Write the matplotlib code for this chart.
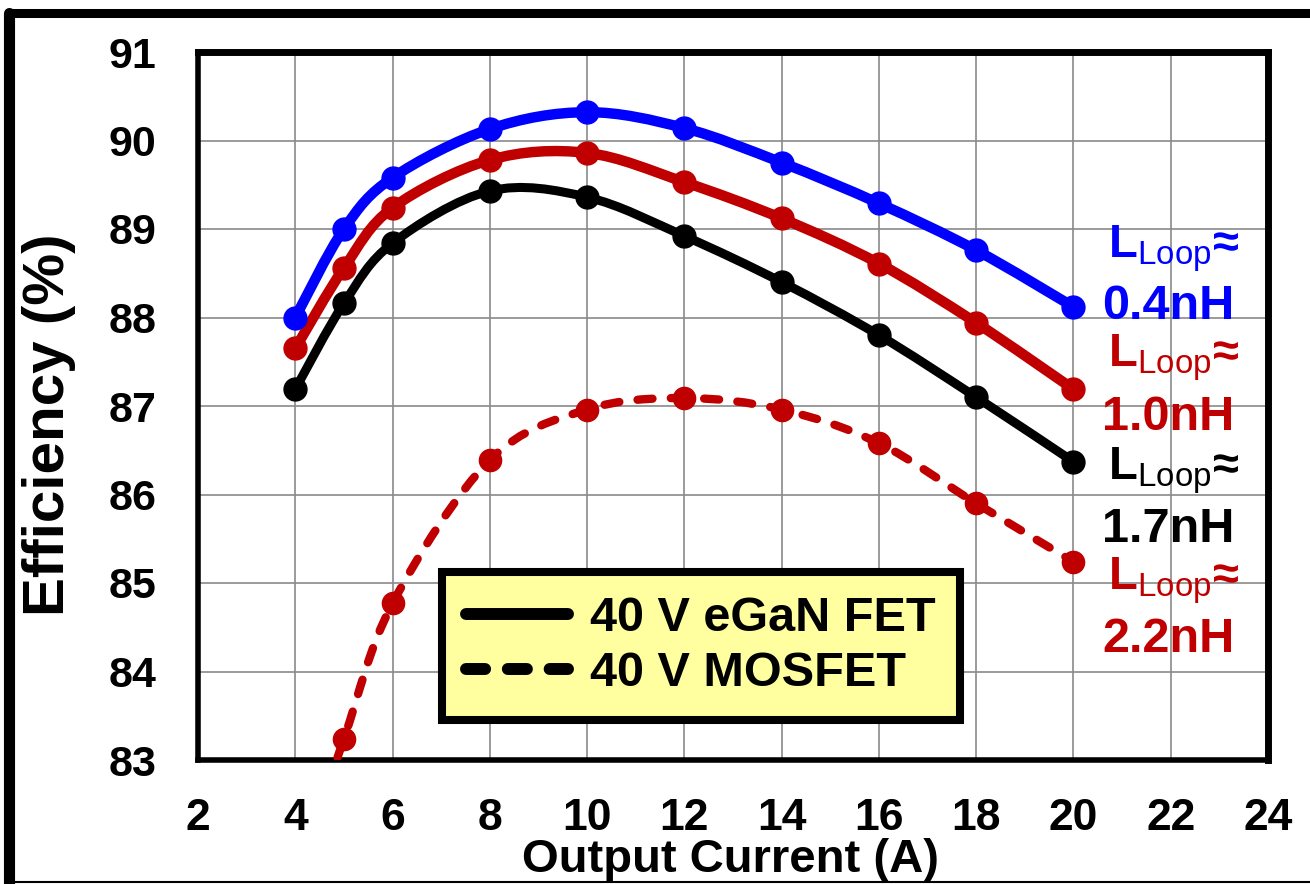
# Efficiency vs output current, eGaN FET vs MOSFET
import numpy as np
import matplotlib
matplotlib.use('Agg')
import matplotlib.pyplot as plt
from matplotlib.path import Path
from matplotlib.patches import PathPatch
from matplotlib.lines import Line2D

# Datos
corriente = [4, 5, 6, 8, 10, 12, 14, 16, 18, 20]
ef_04nH = [88.00, 89.00, 89.58, 90.13, 90.32, 90.14, 89.75, 89.29, 88.76, 88.12]
ef_10nH = [87.65, 88.56, 89.24, 89.78, 89.86, 89.53, 89.12, 88.61, 87.94, 87.19]
ef_17nH = [87.19, 88.16, 88.84, 89.43, 89.36, 88.92, 88.40, 87.80, 87.10, 86.37]
ef_22nH = [81.6, 83.24, 84.77, 86.39, 86.96, 87.09, 86.96, 86.58, 85.90, 85.24]

etiquetas_lazo = ['0.4nH', '1.0nH', '1.7nH', '2.2nH']
leyenda = ['40 V eGaN FET', '40 V MOSFET']
xticks = list(range(2, 25, 2))
yticks = list(range(83, 92))

plt.rcParams['font.family'] = ['Liberation Sans', 'DejaVu Sans']
plt.rcParams['font.weight'] = 'bold'
plt.rcParams['mathtext.fontset'] = 'custom'
plt.rcParams['mathtext.rm'] = 'Liberation Sans:normal'
plt.rcParams['mathtext.bf'] = 'Liberation Sans:bold'
plt.rcParams['mathtext.fallback'] = 'stixsans'

azul = '#0000FF'
rojo = '#C00000'
negro = '#000000'


def curva_suave(xs, ys):
    # linea suavizada tipo Excel (Bezier cubico por segmento)
    pts = np.column_stack([xs, ys]).astype(float)
    n = len(pts)
    verts = [pts[0]]
    codes = [Path.MOVETO]
    for i in range(n - 1):
        p0 = pts[i - 1] if i > 0 else pts[i]
        p1 = pts[i]
        p2 = pts[i + 1]
        p3 = pts[i + 2] if i + 2 < n else pts[i + 1]
        verts += [p1 + (p2 - p0) / 6, p2 - (p3 - p1) / 6, p2]
        codes += [Path.CURVE4] * 3
    return Path(verts, codes)


fig = plt.figure(figsize=(13.1, 8.84), dpi=100)
ax = fig.add_axes([198 / 1310, 1 - 760 / 884, 1070 / 1310, 708 / 884])

# Serie MOSFET (discontinua)
ax.add_patch(PathPatch(curva_suave(corriente, ef_22nH), fill=False, edgecolor=rojo,
                       lw=6.0, linestyle=(0, (1.8, 2.2)), capstyle='round',
                       joinstyle='round', zorder=3))
ax.plot(corriente, ef_22nH, 'o', color=rojo, ms=16, zorder=4)

# Series eGaN
for ys, col, lw in [(ef_17nH, negro, 6.5), (ef_10nH, rojo, 7.5), (ef_04nH, azul, 7.5)]:
    ax.add_patch(PathPatch(curva_suave(corriente, ys), fill=False, edgecolor=col,
                           lw=lw, capstyle='round', joinstyle='round', zorder=3))
    ax.plot(corriente, ys, 'o', color=col, ms=16.5, zorder=4)

ax.set_xlim(2, 24)
ax.set_ylim(83, 91)
ax.set_xticks(xticks)
ax.set_yticks(yticks)
ax.tick_params(axis='y', length=0, labelsize=31, pad=30)
ax.tick_params(axis='x', length=0, labelsize=32, pad=27)
for lab in ax.get_xticklabels() + ax.get_yticklabels():
    lab.set_fontweight('bold')
ax.grid(True, color='#8a8a8a', lw=1.2)
ax.set_axisbelow(True)
for s in ['top', 'right']:
    ax.spines[s].set_linewidth(5)
for s in ['left', 'bottom']:
    ax.spines[s].set_linewidth(4)

# Etiquetas de inductancia de lazo
colores_lab = [azul, rojo, negro, rojo]
base_L = [88.68, 87.45, 86.17, 84.93]
base_v = [87.98, 86.73, 85.46, 84.22]
for txt, col, yL, yv in zip(etiquetas_lazo, colores_lab, base_L, base_v):
    ax.text(22.05, yL, r'L$_{\mathrm{Loop}}$≈', color=col,
            fontsize=34, ha='center', va='baseline', zorder=5)
    ax.text(21.95, yv, txt, color=col, fontsize=35, fontweight='bold',
            ha='center', va='baseline', zorder=5)

# Leyenda
h1 = Line2D([], [], color='black', lw=8.6, solid_capstyle='round')
h2 = Line2D([], [], color='black', lw=8.6, linestyle=(0, (1.6, 1.9)),
            dash_capstyle='round')
leg = ax.legend([h1, h2], leyenda, loc='lower left', bbox_to_anchor=(0.228, 0.0565),
                borderaxespad=0, handlelength=2.1, handletextpad=0.45,
                labelspacing=0.2, borderpad=0.5, fancybox=False, framealpha=1,
                prop={'weight': 'bold', 'size': 35})
leg.get_frame().set_facecolor('#FFFFA0')
leg.get_frame().set_edgecolor('black')
leg.get_frame().set_linewidth(5.8)
leg.set_zorder(6)

# Titulos de ejes
fig.text(49 / 1310, 1 - 425 / 884, 'Efficiency (%)', rotation=90, fontsize=42,
         fontweight='bold', ha='center', va='center')
fig.text(731 / 1310, 1 - 872 / 884, 'Output Current (A)', fontsize=34,
         fontweight='bold', ha='center', va='baseline')

# Marco de la figura
fig.add_artist(Line2D([9 / 1310, 1.0], [1 - 12.5 / 884] * 2, color='black', lw=6.5,
                      solid_capstyle='round', transform=fig.transFigure))
fig.add_artist(Line2D([9 / 1310] * 2, [0.0, 1 - 12.5 / 884], color='black', lw=8,
                      solid_capstyle='round', transform=fig.transFigure))
fig.add_artist(Line2D([9 / 1310, 1.0], [2 / 884] * 2, color='black', lw=1.5,
                      transform=fig.transFigure))

fig.savefig('out.png', dpi=100)
